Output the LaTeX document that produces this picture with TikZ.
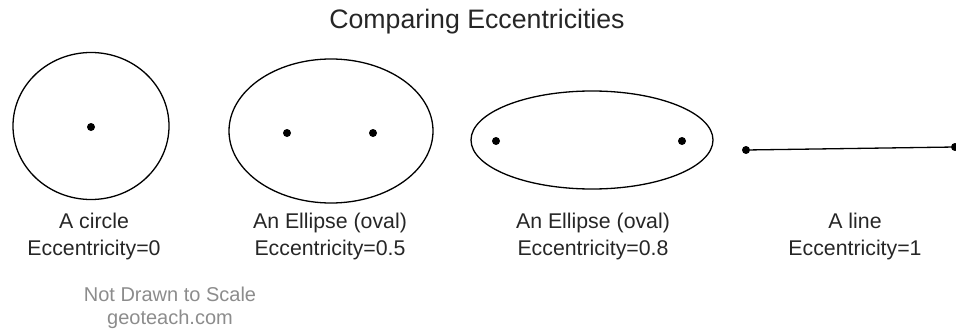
\documentclass[tikz,border=0pt]{standalone}
\usepackage{fontspec}
\setmainfont{Liberation Sans}
\usetikzlibrary{shapes.geometric}

\tikzset{
  orbit/.style={draw, ellipse, line width=1.3pt, inner sep=0pt},
  focus/.style={circle, fill, inner sep=0pt, minimum size=8pt},
  caption/.style={align=center, anchor=north, inner sep=0pt, text=black!85,
    font=\fontsize{21.3}{27}\selectfont},
}

\begin{document}
\begin{tikzpicture}[x=1pt, y=-1pt]
  \useasboundingbox (0,0) rectangle (956,329);
  % Titel:
  \node[anchor=base, inner sep=0pt, text=black!85, font=\fontsize{26.7}{32}\selectfont]
    (title) at (477,29) {Comparing Eccentricities};
  % Kreis:
  \node[orbit, minimum width=156pt, minimum height=147pt] (circ) at (91,126) {};
  \node[focus] (c0) at (91,127) {};
  % Ellipse e=0.5:
  \node[orbit, minimum width=204pt, minimum height=144pt] (ellA) at (331,131) {};
  \node[focus] (a1) at (287,133) {};
  \node[focus] (a2) at (373,133) {};
  % Ellipse e=0.8:
  \node[orbit, minimum width=242pt, minimum height=98pt] (ellB) at (592,140) {};
  \node[focus] (b1) at (496,141) {};
  \node[focus] (b2) at (682,141) {};
  % Linie e=1:
  \node[focus] (l1) at (746,150) {};
  \node[focus] (l2) at (955,147) {};
  \draw[line width=1.3pt] (l1) -- (l2);
  % Beschriftungen:
  \node[caption] (capC) at (94,212.5) {A circle\\Eccentricity=0};
  \node[caption] (capA) at (330,212.5) {An Ellipse (oval)\\Eccentricity=0.5};
  \node[caption] (capB) at (593,212.5) {An Ellipse (oval)\\Eccentricity=0.8};
  \node[caption] (capL) at (855,212.5) {A line\\Eccentricity=1};
  % Hinweis:
  \node[align=center, anchor=north, inner sep=0pt, text=black!45,
    font=\fontsize{20}{23}\selectfont] (note) at (170,286.5) {Not Drawn to Scale\\geoteach.com};
\end{tikzpicture}
\end{document}
